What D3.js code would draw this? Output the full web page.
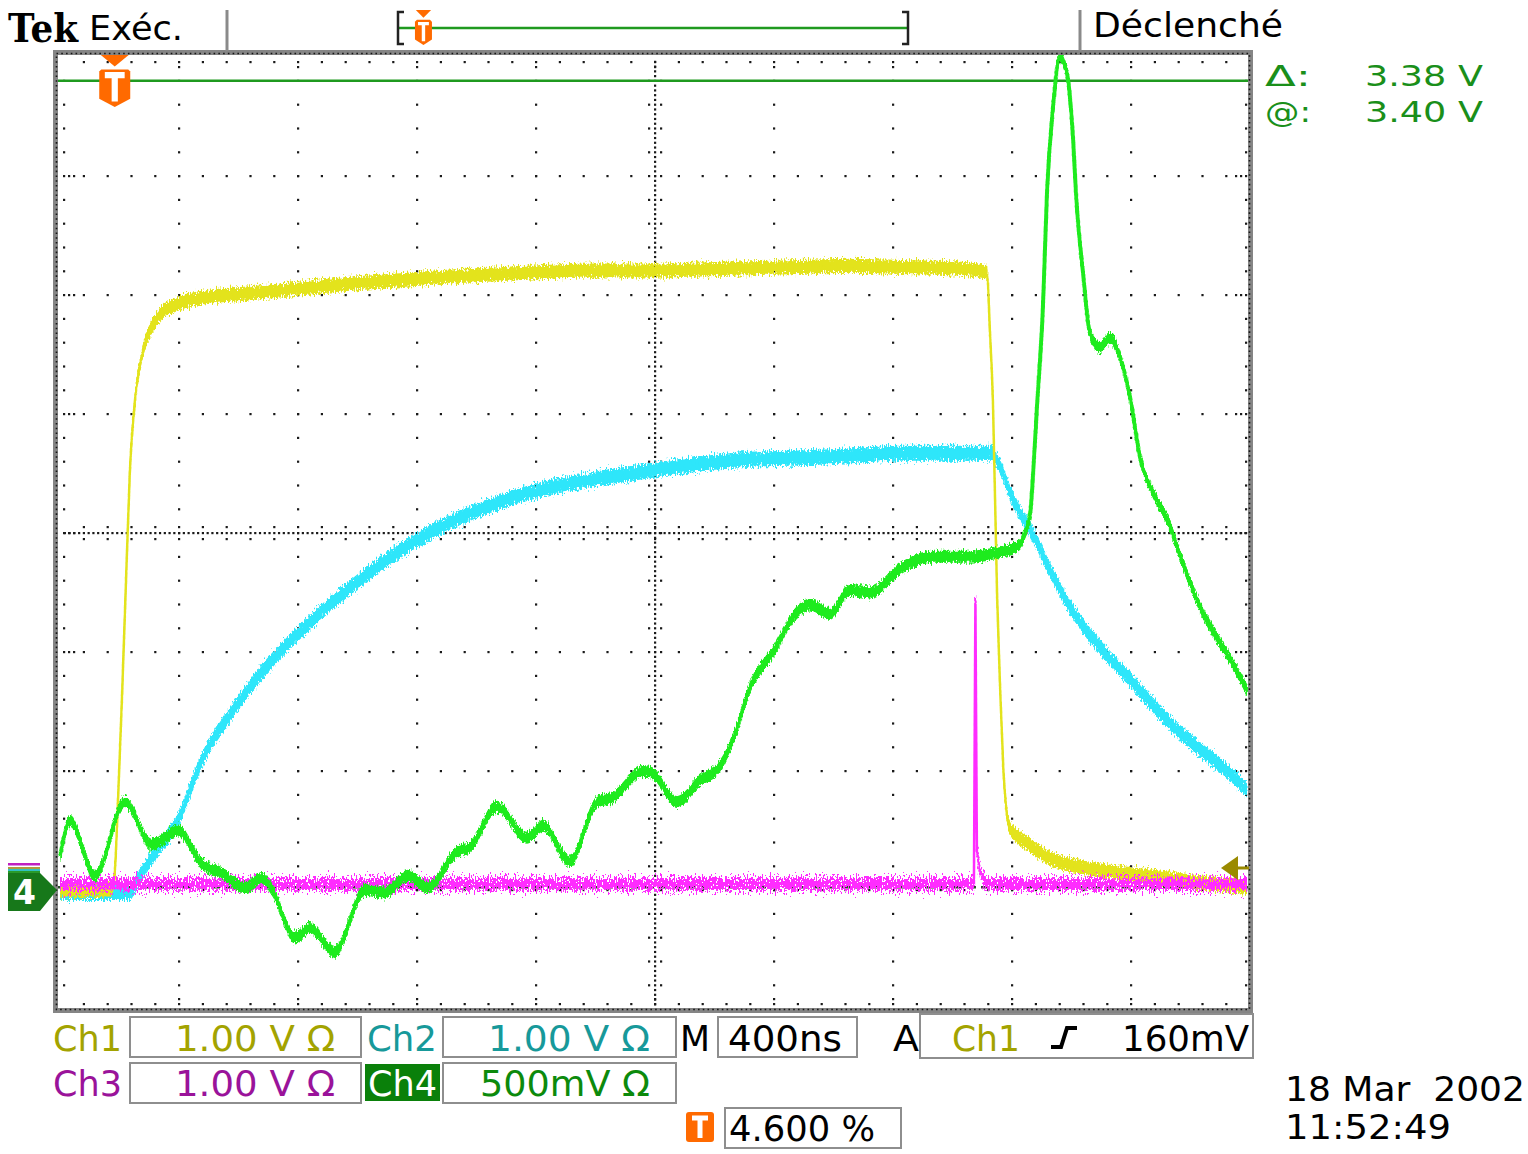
<!DOCTYPE html>
<html>
<head>
<meta charset="utf-8">
<script src="https://cdn.jsdelivr.net/npm/d3@7"></script>
<style>
body { margin: 0; background: #fff; }
svg { display: block; }
text { white-space: pre; }
</style>
</head>
<body>
<svg></svg>
<script>
// time in ns from the trigger point, values in volts
var ch1Time = [-184, -16, -2, 11, 24, 38, 51, 68, 92, 119, 152, 203, 287, 455, 623, 791, 959, 1127, 1295, 1463, 1631, 1799, 1967, 2135, 2303, 2471, 2640, 2808, 2908, 2932, 2942, 2952, 2966, 2976, 2986, 3000, 3009, 3043, 3077, 3144, 3244, 3379, 3513, 3648, 3806];
var ch1Volt = [-0.03, -0.02, 0.06, 0.73, 1.57, 2.58, 3.50, 4.09, 4.47, 4.68, 4.81, 4.89, 4.95, 4.99, 5.03, 5.07, 5.10, 5.13, 5.15, 5.17, 5.18, 5.18, 5.19, 5.20, 5.21, 5.22, 5.21, 5.20, 5.18, 5.16, 4.66, 4.07, 2.44, 1.68, 1.04, 0.59, 0.50, 0.41, 0.35, 0.24, 0.17, 0.12, 0.08, 0.04, 0.00];

var ch2Time = [-184, 51, 78, 135, 213, 293, 387, 488, 623, 791, 1009, 1127, 1295, 1413, 1631, 1816, 1967, 2135, 2303, 2471, 2640, 2808, 2942, 2976, 3009, 3043, 3077, 3144, 3211, 3312, 3413, 3513, 3648, 3749, 3806];
var ch2Volt = [-0.03, -0.03, 0.08, 0.30, 0.58, 1.08, 1.46, 1.80, 2.16, 2.53, 2.92, 3.08, 3.25, 3.34, 3.45, 3.52, 3.57, 3.61, 3.62, 3.64, 3.66, 3.66, 3.66, 3.55, 3.33, 3.16, 3.02, 2.68, 2.37, 2.03, 1.76, 1.48, 1.17, 0.97, 0.83];

var ch3Time = [-184, 2888, 2893, 2898, 2908, 2929, 3806];
var ch3Volt = [0, 0, 2.40, 0.29, 0.10, 0, 0];

var ch4Time = [-184, -150, -66, 34, 125, 213, 293, 361, 438, 495, 529, 606, 656, 740, 841, 908, 986, 1053, 1150, 1194, 1285, 1386, 1440, 1530, 1621, 1675, 1776, 1809, 1890, 1967, 2034, 2078, 2135, 2213, 2303, 2337, 2404, 2471, 2539, 2640, 2750, 2865, 2976, 3043, 3053, 3077, 3087, 3100, 3120, 3134, 3154, 3177, 3201, 3218, 3234, 3255, 3278, 3312, 3345, 3379, 3413, 3446, 3490, 3537, 3591, 3648, 3705, 3759, 3806];
var ch4Volt = [0.14, 0.29, 0.06, 0.37, 0.19, 0.25, 0.11, 0.07, 0.01, 0.05, 0.00, -0.20, -0.16, -0.26, 0.00, -0.01, 0.06, 0.01, 0.16, 0.18, 0.35, 0.22, 0.27, 0.12, 0.37, 0.39, 0.50, 0.49, 0.37, 0.46, 0.52, 0.63, 0.85, 1.00, 1.18, 1.20, 1.16, 1.26, 1.25, 1.35, 1.40, 1.40, 1.42, 1.45, 1.48, 1.58, 1.75, 2.03, 2.45, 2.94, 3.29, 3.50, 3.43, 3.22, 2.87, 2.59, 2.34, 2.28, 2.32, 2.24, 2.07, 1.82, 1.67, 1.56, 1.37, 1.19, 1.06, 0.95, 0.84];

// volts per division and ground position (divisions from centre)
var voltsPerDiv = [1, 1, 1, 0.5];
var groundDiv = [-2.975, -2.99, -2.95, -3.0];
var cursorVolts = [3.40, 0.02];
var triggerLevel = 0.16;
var timeRange = [-184, 3816];

var svg = d3.select("svg")
    .attr("width", 1528)
    .attr("height", 1154)
    .attr("font-family", "DejaVu Sans");

var xDiv = d3.scaleLinear().domain([0, 10]).range([60, 1250]);
var yDiv = d3.scaleLinear().domain([-4, 4]).range([1009, 57]);
var xTime = d3.scaleLinear().domain(timeRange).range([60, 1250]);

var defs = svg.append("defs");
defs.append("clipPath")
    .attr("id", "screen")
    .append("rect")
    .attr("x", 57).attr("y", 55)
    .attr("width", 1192).attr("height", 954);

// vertical-only jitter to look like sampled noise
var makeNoise = function(id, scale, seed)
{
    var f = defs.append("filter")
        .attr("id", id)
        .attr("filterUnits", "userSpaceOnUse")
        .attr("x", 0).attr("y", 0).attr("width", 1528).attr("height", 1154)
        .attr("color-interpolation-filters", "sRGB");
    f.append("feTurbulence")
        .attr("type", "fractalNoise")
        .attr("baseFrequency", "0.85 0.3")
        .attr("numOctaves", 2)
        .attr("seed", seed)
        .attr("result", "turb");
    f.append("feColorMatrix")
        .attr("in", "turb")
        .attr("type", "matrix")
        .attr("values", "0 0 0 0 0.5  0 1 0 0 0  0 0 0 0 0  0 0 0 0 1")
        .attr("result", "map");
    f.append("feDisplacementMap")
        .attr("in", "SourceGraphic")
        .attr("in2", "map")
        .attr("scale", scale)
        .attr("xChannelSelector", "R")
        .attr("yChannelSelector", "G");
}
makeNoise("noiseA", 13, 3);
makeNoise("noiseB", 12, 8);
makeNoise("noiseC", 26, 5);
makeNoise("noiseD", 10, 11);

// graticule dots
var pts = [];
d3.range(1, 10).forEach(function(i)
{
    if (i == 5) return;
    d3.range(1, 40).forEach(function(k) { pts.push([xDiv(i), yDiv(k / 5 - 4)]); });
});
d3.range(-3, 4).forEach(function(j)
{
    if (j == 0) return;
    d3.range(1, 50).forEach(function(k) { pts.push([xDiv(k / 5), yDiv(j)]); });
});
d3.range(1, 250).forEach(function(k) { pts.push([xDiv(k / 25), yDiv(0)]); });
d3.range(1, 200).forEach(function(k) { pts.push([xDiv(5), yDiv(k / 25 - 4)]); });
d3.range(1, 50).forEach(function(k)
{
    var x = xDiv(k / 5);
    pts.push([x, yDiv(0) - 6], [x, yDiv(0) + 6]);
    pts.push([x, yDiv(4) + 5], [x, yDiv(-4) - 5]);
    if (k % 5 == 0) pts.push([x, yDiv(4) + 10], [x, yDiv(-4) - 10]);
});
d3.range(1, 40).forEach(function(k)
{
    var y = yDiv(k / 5 - 4);
    pts.push([xDiv(5) - 6, y], [xDiv(5) + 6, y]);
    pts.push([xDiv(0) + 4, y], [xDiv(10) - 4, y]);
    if (k % 5 == 0) pts.push([xDiv(0) + 9, y], [xDiv(10) - 9, y], [xDiv(0) + 14, y], [xDiv(10) - 14, y]);
});

svg.append("g")
    .attr("id", "grid")
    .selectAll("rect")
    .data(pts)
    .enter()
    .append("rect")
    .attr("x", function(d) { return d[0] - 1; })
    .attr("y", function(d) { return d[1] - 1; })
    .attr("width", 2.2)
    .attr("height", 2.2)
    .attr("fill", "#1a1a1a");

// cursors (Ch4)
var chY = function(ch, v) { return yDiv(v / voltsPerDiv[ch] + groundDiv[ch]); };

svg.append("line")
    .attr("x1", 57).attr("x2", 1249)
    .attr("y1", chY(3, cursorVolts[0])).attr("y2", chY(3, cursorVolts[0]))
    .attr("stroke", "#1f9a1f").attr("stroke-width", 2.5);
svg.append("line")
    .attr("x1", 57).attr("x2", 1249)
    .attr("y1", chY(3, cursorVolts[1]) + 2).attr("y2", chY(3, cursorVolts[1]) + 2)
    .attr("stroke", "#2d4d2d").attr("stroke-width", 2.5)
    .attr("stroke-dasharray", "9 5");

// traces
var traces = [
    {ch: 1, time: ch2Time, volt: ch2Volt, color: "#2ee6fa", band: 7.5, lw: 3, noise: "noiseA", curve: d3.curveMonotoneX},
    {ch: 0, time: ch1Time, volt: ch1Volt, color: "#e3e31c", band: 7, lw: 2.5, noise: "noiseB", curve: d3.curveMonotoneX},
    {ch: 2, time: ch3Time, volt: ch3Volt, color: "#ff2cff", band: 6, lw: 2.5, noise: "noiseC", curve: d3.curveLinear},
    {ch: 3, time: ch4Time, volt: ch4Volt, color: "#1eeb1e", band: 6, lw: 4, noise: "noiseD", curve: d3.curveMonotoneX}
];

traces.forEach(function(tr)
{
    var data = d3.zip(tr.time, tr.volt);
    var g = svg.append("g")
        .attr("clip-path", "url(#screen)")
        .append("g")
        .attr("filter", "url(#" + tr.noise + ")");

    var band = d3.area()
        .x(function(d) { return xTime(d[0]); })
        .y0(function(d) { return chY(tr.ch, d[1]) - tr.band; })
        .y1(function(d) { return chY(tr.ch, d[1]) + tr.band; })
        .curve(tr.curve);
    var line = d3.line()
        .x(function(d) { return xTime(d[0]); })
        .y(function(d) { return chY(tr.ch, d[1]); })
        .curve(tr.curve);

    g.append("path")
        .datum(data)
        .attr("d", band)
        .attr("fill", tr.color);
    g.append("path")
        .datum(data)
        .attr("d", line)
        .attr("fill", "none")
        .attr("stroke", tr.color)
        .attr("stroke-width", tr.lw);
});

// screen border with dotted edge
svg.append("rect")
    .attr("x", 55.5).attr("y", 52.5)
    .attr("width", 1195).attr("height", 958)
    .attr("fill", "none")
    .attr("stroke", "#858585")
    .attr("stroke-width", 5);
svg.append("rect")
    .attr("x", 56.5).attr("y", 53.5)
    .attr("width", 1193).attr("height", 956)
    .attr("fill", "none")
    .attr("stroke", "#151515")
    .attr("stroke-width", 1.6)
    .attr("stroke-dasharray", "1.6 3.16");

// header separators
svg.append("line").attr("x1", 227).attr("x2", 227).attr("y1", 10).attr("y2", 51)
    .attr("stroke", "#8a8a8a").attr("stroke-width", 3);
svg.append("line").attr("x1", 1080).attr("x2", 1080).attr("y1", 10).attr("y2", 51)
    .attr("stroke", "#8a8a8a").attr("stroke-width", 3);

// record view bar
var recX = d3.scaleLinear().domain(timeRange).range([398, 908]);
svg.append("line").attr("x1", 398).attr("x2", 908).attr("y1", 28).attr("y2", 28)
    .attr("stroke", "#1f9a1f").attr("stroke-width", 2.5);
svg.append("path").attr("d", "M404,12 H398 V44 H404 M902,12 H908 V44 H902")
    .attr("fill", "none").attr("stroke", "#222").attr("stroke-width", 2.5);

var orange = "#ff6a00";
var drawT = function(cx, top, w, h)
{
    var g = svg.append("g");
    var tw = w * 0.9, th = h * 0.22;
    g.append("path")
        .attr("d", "M" + (cx - tw / 2) + "," + top + " H" + (cx + tw / 2) + " L" + cx + "," + (top + th) + " Z")
        .attr("fill", orange);
    var s = top + th + h * 0.06, sh = h - th - h * 0.06;
    g.append("path")
        .attr("d", "M" + (cx - w / 2 + 2) + "," + s + " H" + (cx + w / 2 - 2) + " L" + (cx + w / 2) + "," + (s + 2) +
            " V" + (s + sh * 0.78) + " L" + cx + "," + (s + sh) + " L" + (cx - w / 2) + "," + (s + sh * 0.78) +
            " V" + (s + 2) + " Z")
        .attr("fill", orange);
    g.append("path")
        .attr("d", "M" + (cx - w * 0.32) + "," + (s + sh * 0.15) + " H" + (cx + w * 0.32) +
            " M" + cx + "," + (s + sh * 0.15) + " V" + (s + sh * 0.85))
        .attr("stroke", "#fff")
        .attr("stroke-width", w * 0.2);
}
drawT(xTime(0), 55, 31, 52);
drawT(recX(0) + 2, 10, 17, 35);

// trigger level arrow (Ch1)
var ty = chY(0, triggerLevel);
svg.append("path")
    .attr("d", "M1221," + ty + " L1238," + (ty - 12) + " V" + (ty + 12) + " Z")
    .attr("fill", "#9a8a00");
svg.append("line").attr("x1", 1236).attr("x2", 1249).attr("y1", ty).attr("y2", ty)
    .attr("stroke", "#9a8a00").attr("stroke-width", 3);

// ground markers at left
var gy = chY(3, 0);
[["#c020c0", -27], ["#b09a40", -23], ["#30c0c0", -21], ["#2a9a2a", -19]].forEach(function(m)
{
    svg.append("rect").attr("x", 8).attr("y", gy + m[1]).attr("width", 32).attr("height", 2.5).attr("fill", m[0]);
});
svg.append("path")
    .attr("d", "M8," + (gy - 17) + " H40 L57," + gy + " L40," + (gy + 21) + " H8 Z")
    .attr("fill", "#17781a");
svg.append("text").attr("x", 13).attr("y", gy + 14).text("4")
    .attr("font-size", 33).attr("font-weight", "bold").attr("fill", "#fff");

// text helper
var txt = function(x, y, s, size, color, len, family, weight)
{
    var t = svg.append("text")
        .attr("x", x).attr("y", y)
        .text(s)
        .attr("font-size", size)
        .attr("fill", color)
        .attr("font-family", family || "DejaVu Sans");
    if (len) t.attr("textLength", len).attr("lengthAdjust", "spacingAndGlyphs");
    if (weight) t.attr("font-weight", weight);
    return t;
}

txt(8, 42, "Tek", 40, "#000", 70, "DejaVu Serif", "bold");
txt(89, 40, "Exéc.", 34, "#000", 94);
txt(1093, 37, "Déclenché", 34, "#000", 190);

var cg = "#1a8f1a";
txt(1265, 86, "Δ:", 29, cg, 46);
txt(1365, 86, "3.38 V", 29, cg, 118);
txt(1265, 122, "@:", 29, cg, 46);
txt(1365, 122, "3.40 V", 29, cg, 118);

// readout boxes
var boxes = [[130, 1017, 231, 40], [443, 1017, 233, 40], [718, 1017, 139, 40], [920, 1014, 333, 44],
             [130, 1063, 231, 40], [443, 1063, 233, 40], [725, 1108, 176, 40]];
svg.append("g").selectAll("rect")
    .data(boxes)
    .enter()
    .append("rect")
    .attr("x", function(d) { return d[0]; })
    .attr("y", function(d) { return d[1]; })
    .attr("width", function(d) { return d[2]; })
    .attr("height", function(d) { return d[3]; })
    .attr("fill", "none")
    .attr("stroke", "#8e8e8e")
    .attr("stroke-width", 2);

var c1 = "#a3a300", c2 = "#17999a", c3 = "#9a139a", c4 = "#0c8a0c";
txt(53, 1051, "Ch1", 35, c1, 69);
txt(175, 1051, "1.00 V Ω", 35, c1, 160);
txt(367, 1051, "Ch2", 35, c2, 70);
txt(488, 1051, "1.00 V Ω", 35, c2, 162);
txt(680, 1051, "M", 35, "#000", 30);
txt(728, 1051, "400ns", 35, "#000", 114);
txt(893, 1051, "A", 35, "#000", 26);
txt(952, 1051, "Ch1", 35, c1, 68);
svg.append("path").attr("d", "M1051,1047 H1061 L1067,1028 H1077")
    .attr("fill", "none").attr("stroke", "#000").attr("stroke-width", 4);
txt(1122, 1051, "160mV", 35, "#000", 127);

txt(53, 1096, "Ch3", 35, c3, 69);
txt(175, 1096, "1.00 V Ω", 35, c3, 160);
svg.append("rect").attr("x", 365).attr("y", 1064).attr("width", 75).attr("height", 37).attr("fill", "#0a800a");
txt(368, 1096, "Ch4", 35, "#fff", 69);
txt(480, 1096, "500mV Ω", 35, c4, 170);

svg.append("rect").attr("x", 686).attr("y", 1112).attr("width", 28).attr("height", 30).attr("rx", 3).attr("fill", orange);
svg.append("path").attr("d", "M692,1118 H708 M700,1118 V1138").attr("stroke", "#fff").attr("stroke-width", 5);
txt(729, 1141, "4.600 %", 35, "#000", 146);

txt(1285, 1101, "18 Mar  2002", 34, "#000", 240);
txt(1285, 1139, "11:52:49", 34, "#000", 166);
</script>
</body>
</html>
